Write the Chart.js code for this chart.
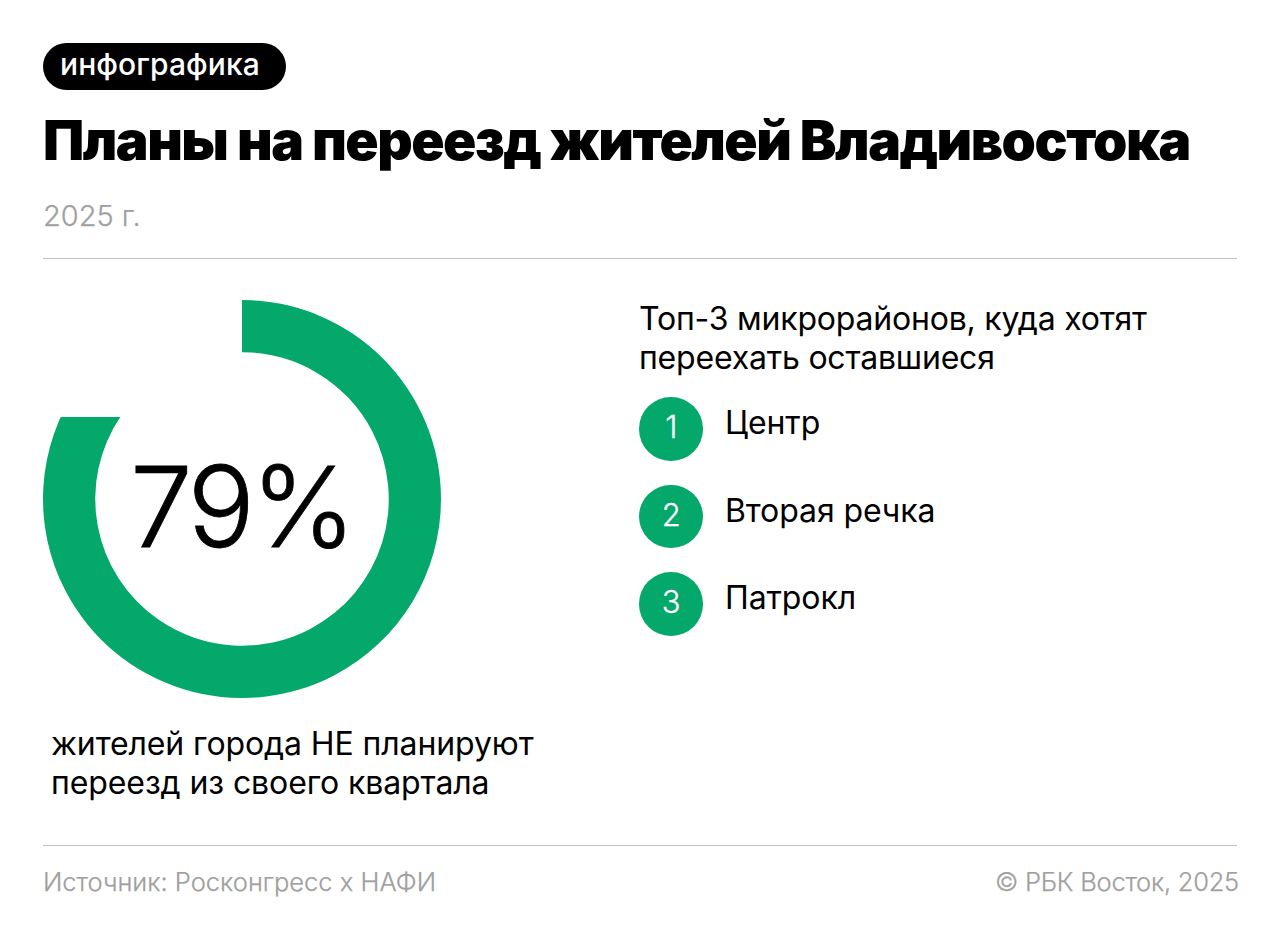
<!DOCTYPE html>
<html lang="ru">
<head>
<meta charset="utf-8">
<title>Планы на переезд жителей Владивостока</title>
<script src="https://cdn.jsdelivr.net/npm/chart.js@4/dist/chart.umd.min.js"></script>
<style>
  html, body { margin: 0; padding: 0; background: #fff; }
  body { position: relative; width: 1280px; height: 940px; overflow: hidden; font-family: Inter, sans-serif; color: #000; }
  .abs { position: absolute; white-space: nowrap; }
  .rule { position: absolute; left: 43px; width: 1194px; height: 1px; background: #c0c0c0; }
  .tag { left: 43px; top: 43px; width: 243px; height: 47px; border-radius: 24px; background: #000; color: #fff; font-size: 30px; font-weight: 500; line-height: 43px; text-indent: 17px; letter-spacing: 0.1px; }
  .title { left: 43px; top: 105px; font-size: 55px; font-weight: 900; line-height: 70px; letter-spacing: -1.5px; }
  .year { color: #a0a0a0; font-size: 29px; font-weight: 300; line-height: 32px; -webkit-text-stroke: 0.25px #a0a0a0; }
  .foot { color: #a0a0a0; font-size: 25.5px; font-weight: 300; line-height: 32px; -webkit-text-stroke: 0.25px #a0a0a0; }
  .body { font-size: 32px; line-height: 39px; letter-spacing: -0.1px; }
  .big { left: 130px; top: 446px; font-size: 112px; font-weight: 300; line-height: 120px; letter-spacing: -4px; -webkit-text-stroke: 0.8px #000; }
  .dot { position: absolute; left: 639px; width: 63.5px; height: 63.5px; border-radius: 50%; background: #04a86a; color: #fff; font-size: 31px; font-weight: 300; line-height: 60px; text-align: center; text-indent: 1px; -webkit-text-stroke: 0.3px #fff; }
  #ring { position: absolute; left: 41.5px; top: 299px; }
</style>
</head>
<body>
<div class="abs tag">инфографика</div>
<div class="abs title">Планы на переезд жителей Владивостока</div>
<div class="abs year" style="left:43px;top:200px">2025 г.</div>
<div class="rule" style="top:258px"></div>

<canvas id="ring" width="400" height="400"></canvas>
<div class="abs big" id="bigValue"></div>
<div class="abs body" style="left:51px;top:724px">жителей города НЕ планируют<br>переезд из своего квартала</div>

<div class="abs body" style="left:639px;top:299px;letter-spacing:-0.2px">Топ-3 микрорайонов, куда хотят<br>переехать оставшиеся</div>
<div id="top3"></div>

<div class="rule" style="top:845px"></div>
<div class="abs foot" style="left:43px;top:866px">Источник: Росконгресс х НАФИ</div>
<div class="abs foot" style="right:41px;top:866px;letter-spacing:-0.25px">© РБК Восток, 2025</div>

<script>
const shareLabel = "79%";
// the printed ring is not cut radially at 79: it runs on to a flat edge,
// so the arc is read off the picture and clipped by the plugin below
const ringLabels = ["Не планируют", "Остальные"];
const ringValues = [84.6, 15.4];
const districts = ["Центр", "Вторая речка", "Патрокл"];
const districtRanks = [1, 2, 3];

document.getElementById("bigValue").textContent = shareLabel;

const list = document.getElementById("top3");
districts.forEach((name, i) => {
  const top = 397 + i * 87.5;
  const dot = document.createElement("div");
  dot.className = "dot";
  dot.style.top = top + "px";
  dot.textContent = districtRanks[i];
  list.appendChild(dot);
  const label = document.createElement("div");
  label.className = "abs body";
  label.style.left = "725px";
  label.style.top = top + 6 + "px";
  label.textContent = name;
  list.appendChild(label);
});

// y of the flat edge, canvas pixels (417 on the page)
const flatCut = {
  id: "flatCut",
  beforeDatasetsDraw(chart) {
    const ctx = chart.ctx;
    ctx.save();
    ctx.beginPath();
    ctx.rect(200, 0, 200, 400);
    ctx.rect(0, 118, 200, 282);
    ctx.clip();
  },
  afterDatasetsDraw(chart) {
    chart.ctx.restore();
  },
};

new Chart(document.getElementById("ring"), {
  type: "doughnut",
  data: {
    labels: ringLabels,
    datasets: [
      {
        data: ringValues,
        backgroundColor: ["#04a86a", "rgba(0,0,0,0)"],
        borderWidth: 0,
      },
    ],
  },
  options: {
    responsive: false,
    animation: false,
    radius: 199,
    cutout: 147.5,
    plugins: { legend: { display: false }, tooltip: { enabled: false } },
  },
  plugins: [flatCut],
});
</script>
</body>
</html>
